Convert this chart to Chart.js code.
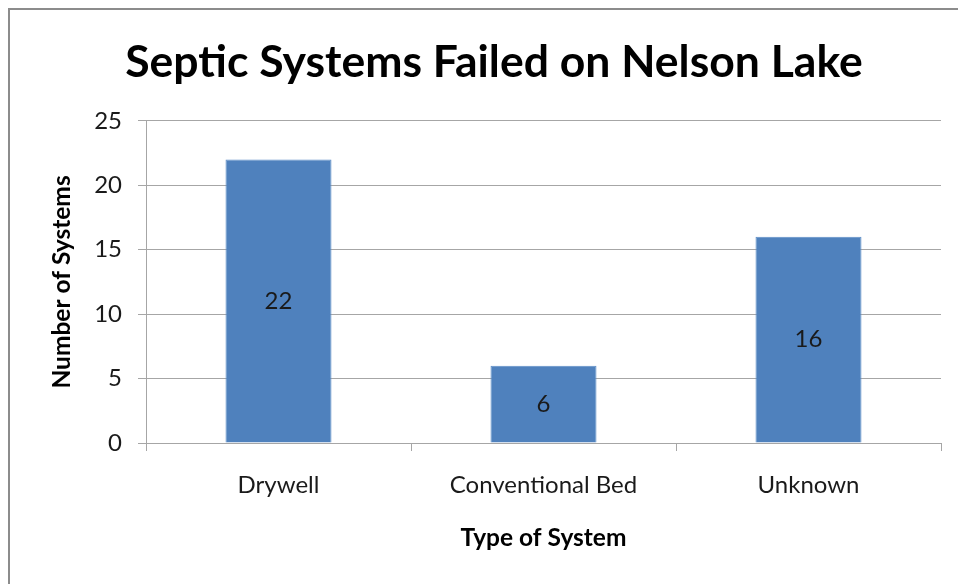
<!DOCTYPE html>
<html>
<head>
<meta charset="utf-8">
<script src="https://cdn.jsdelivr.net/npm/chart.js@4.4.1/dist/chart.umd.min.js"></script>
<style>
  html, body { margin: 0; padding: 0; background: #ffffff; }
  #wrap { width: 958px; height: 584px; }
</style>
</head>
<body>
<div id="wrap"><canvas id="chart" width="958" height="584"></canvas></div>
<script>
// Failed septic systems by type
const systemTypes = ['Drywell', 'Conventional Bed', 'Unknown'];
const failedCounts = [22, 6, 16];
const yTickValues = [0, 5, 10, 15, 20, 25];

const FONT = 'Lato, "Open Sans", "Liberation Sans", sans-serif';
const GRID = '#a6a6a6';

// Outer frame of the chart object
const framePlugin = {
  id: 'frame',
  beforeDraw(chart) {
    const ctx = chart.ctx;
    ctx.save();
    ctx.fillStyle = '#ffffff';
    ctx.fillRect(0, 0, chart.width, chart.height);
    ctx.strokeStyle = '#8c8c8c';
    ctx.lineWidth = 2;
    ctx.strokeRect(9, 9, chart.width + 20, chart.height + 20);
    ctx.restore();
  }
};

// Value labels centred inside each bar
const centreLabels = {
  id: 'centreLabels',
  afterDatasetsDraw(chart) {
    const ctx = chart.ctx;
    const meta = chart.getDatasetMeta(0);
    ctx.save();
    ctx.font = '24px ' + FONT;
    ctx.fillStyle = '#1a1a1a';
    ctx.textAlign = 'center';
    ctx.textBaseline = 'middle';
    meta.data.forEach((bar, i) => {
      const v = chart.data.datasets[0].data[i];
      ctx.fillText(String(v), bar.x, (bar.y + bar.base) / 2);
    });
    ctx.restore();
  }
};

new Chart(document.getElementById('chart'), {
  type: 'bar',
  data: {
    labels: systemTypes,
    datasets: [{
      data: failedCounts,
      backgroundColor: '#4f81bd',
      borderColor: '#5b8cc7',
      borderWidth: 1,
      barPercentage: 0.4,
      categoryPercentage: 1.0
    }]
  },
  options: {
    responsive: false,
    animation: false,
    devicePixelRatio: 1,
    layout: { padding: { left: 47, right: 17, top: 0, bottom: 31 } },
    plugins: {
      legend: { display: false },
      tooltip: { enabled: false },
      title: {
        display: true,
        text: 'Septic Systems Failed on Nelson Lake',
        color: '#000000',
        font: { family: FONT, size: 44.5, weight: 'bold', lineHeight: 1.2 },
        padding: { top: 36, bottom: 31.5 }
      }
    },
    scales: {
      x: {
        afterFit(scale) {
          scale.height = 110;
        },
        grid: {
          offset: true,
          drawOnChartArea: false,
          drawTicks: true,
          tickLength: 8,
          color: GRID
        },
        border: { display: true, color: GRID, width: 1 },
        ticks: {
          color: '#1a1a1a',
          font: { family: FONT, size: 24, lineHeight: 1.2 },
          padding: 19.5,
          maxRotation: 0
        },
        title: {
          display: true,
          text: 'Type of System',
          color: '#000000',
          font: { family: FONT, size: 24.5, weight: 'bold', lineHeight: 1.2 },
          padding: { top: 24, bottom: 0 }
        }
      },
      y: {
        min: 0,
        max: 25,
        afterBuildTicks(scale) {
          scale.ticks = yTickValues.map(v => ({ value: v }));
        },
        afterFit(scale) {
          scale.width = 99;
        },
        grid: {
          color: GRID,
          drawTicks: true,
          tickLength: 8
        },
        border: { display: true, color: GRID, width: 1 },
        ticks: {
          color: '#1a1a1a',
          font: { family: FONT, size: 24 },
          padding: 16
        },
        title: {
          display: true,
          text: 'Number of Systems',
          color: '#000000',
          font: { family: FONT, size: 24.5, weight: 'bold', lineHeight: 1.2 },
          padding: { top: 0, bottom: 0 }
        }
      }
    }
  },
  plugins: [framePlugin, centreLabels]
});
</script>
</body>
</html>
